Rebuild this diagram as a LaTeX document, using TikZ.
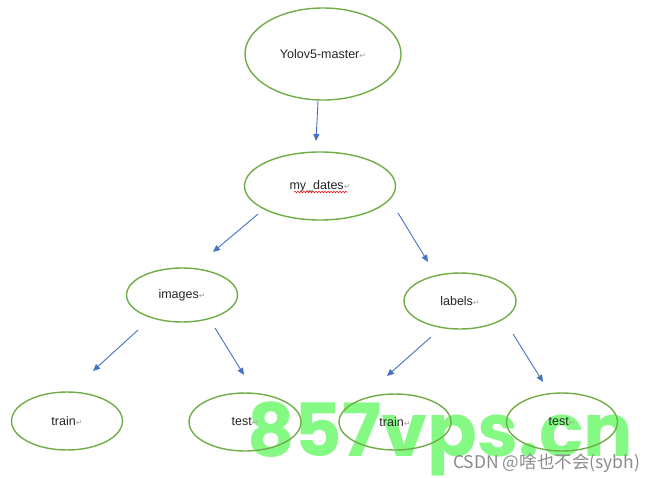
\documentclass[tikz,border=0pt]{standalone}
\usepackage{fontspec}
\usepackage{graphicx}
\setmainfont{Liberation Sans}
\newfontfamily\symf{DejaVu Sans}
\newfontfamily\cjkf{Noto Sans CJK SC}
\newfontfamily\wmf{Poppins}
\usetikzlibrary{shapes.geometric,arrows.meta,decorations.pathmorphing}
\definecolor{ogreen}{RGB}{112,173,71}
\definecolor{oblue}{RGB}{68,114,196}
\definecolor{wmgreen}{RGB}{132,250,132}
\newcommand{\retmark}{{\symf\fontsize{8}{8}\selectfont\color{black!35}↵}}
\begin{document}
\begin{tikzpicture}[x=1pt,y=-1pt,
  ell/.style={ellipse, draw=ogreen, line width=1.4pt, inner sep=0pt, text=black!85, font=\fontsize{12.5}{14}\selectfont},
  arr/.style={draw=oblue, line width=0.9pt, -{Triangle[length=7pt,width=6pt]}}]
\useasboundingbox[fill=white] (0,0) rectangle (650,477);
% watermark
\node[anchor=base west, inner sep=0pt, text=wmgreen] (wm) at (247,456) {\resizebox{386pt}{!}{\wmf\bfseries 857vps.cn}};
% ellipses
\node[ell, minimum width=156pt, minimum height=92pt] (root) at (323,54) {Yolov5-master\retmark};
\node[ell, minimum width=151pt, minimum height=68pt] (dates) at (320,186) {my\_dates\retmark};
\node[ell, minimum width=111pt, minimum height=54pt] (images) at (182,295) {images\retmark};
\node[ell, minimum width=112pt, minimum height=56pt] (labels) at (460,301) {labels\retmark};
\node[ell, minimum width=111pt, minimum height=58pt] (itrain) at (67,421) {train\retmark};
\node[ell, minimum width=112pt, minimum height=58pt] (itest) at (245,422) {test\retmark};
\node[ell, minimum width=112pt, minimum height=56pt] (ltrain) at (395,422) {train\retmark};
\node[ell, minimum width=111pt, minimum height=58pt] (ltest) at (562,422) {test\retmark};
% spell-check underline
\coordinate (w1) at (294,192); \coordinate (w2) at (348,192);
\draw[red, line width=0.5pt, decorate, decoration={snake, amplitude=0.8pt, segment length=3pt}] (w1) -- (w2);
% arrows
\coordinate (a1s) at (318,101); \coordinate (a1e) at (316,141);
\coordinate (a2s) at (258,214); \coordinate (a2e) at (213,252);
\coordinate (a3s) at (398,213); \coordinate (a3e) at (428,262);
\coordinate (a4s) at (138,330); \coordinate (a4e) at (93,371);
\coordinate (a5s) at (215,328); \coordinate (a5e) at (244,375);
\coordinate (a6s) at (431,337); \coordinate (a6e) at (387,376);
\coordinate (a7s) at (513,334); \coordinate (a7e) at (543,382);
\draw[arr] (a1s) -- (a1e);
\draw[arr] (a2s) -- (a2e);
\draw[arr] (a3s) -- (a3e);
\draw[arr] (a4s) -- (a4e);
\draw[arr] (a5s) -- (a5e);
\draw[arr] (a6s) -- (a6e);
\draw[arr] (a7s) -- (a7e);
% credit
\node[anchor=base west, inner sep=0pt, text=black!45] (csdn) at (453,468) {\resizebox{187pt}{!}{\cjkf CSDN @啥也不会(sybh)}};
\end{tikzpicture}
\end{document}
